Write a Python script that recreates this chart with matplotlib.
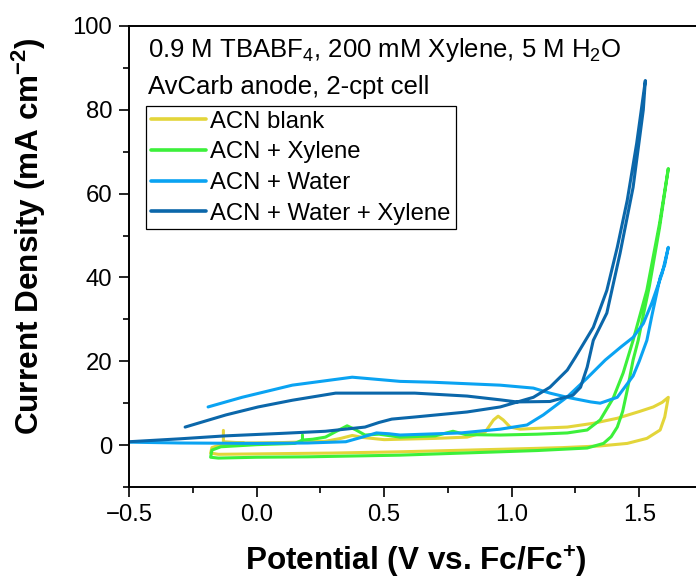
import matplotlib
matplotlib.use("Agg")
import matplotlib.pyplot as plt
from matplotlib.ticker import MultipleLocator

plt.rcParams.update({
    "font.family": "Liberation Sans",
    "mathtext.fontset": "custom",
    "mathtext.rm": "Liberation Sans",
    "mathtext.it": "Liberation Sans:italic",
    "mathtext.bf": "Liberation Sans:bold",
    "axes.linewidth": 1.4,
})

YELLOW, GREEN, LBLUE, DBLUE = "#e3d53a", "#3cf03a", "#0aa3f2", "#0b67aa"

# CV traces (potential V vs Fc/Fc+, current density mA cm-2)
blank_v = [-0.13, -0.13, -0.05, 0.10, 0.27, 0.33, 0.375, 0.42, 0.50, 0.563, 0.70, 0.825, 0.896,
           0.929, 0.947, 0.967, 0.994, 1.033, 1.10, 1.218, 1.32, 1.414, 1.50, 1.555, 1.59, 1.614,
           1.60, 1.582, 1.53, 1.453, 1.347, 1.20, 1.085, 0.825, 0.563, 0.30, 0.0, -0.15, -0.18,
           -0.175, -0.14, -0.05]
blank_j = [3.5, 0.8, 0.5, 0.6, 0.9, 1.6, 2.3, 1.8, 1.3, 1.4, 1.6, 1.9, 3.1,
           6.0, 6.9, 6.0, 4.3, 3.8, 4.0, 4.3, 5.2, 6.4, 8.0, 9.1, 10.2, 11.4,
           6.7, 3.6, 1.6, 0.4, -0.2, -0.6, -0.8, -1.2, -1.6, -1.9, -2.1, -2.2, -1.9,
           -0.6, 0.1, 0.5]

xyl_v = [0.18, 0.18, 0.22, 0.27, 0.31, 0.355, 0.39, 0.425, 0.48, 0.563, 0.70, 0.77, 0.82,
         0.955, 1.10, 1.218, 1.296, 1.347, 1.398, 1.437, 1.476, 1.53, 1.58, 1.614,
         1.58, 1.54, 1.516, 1.496, 1.476, 1.453, 1.435, 1.414, 1.39, 1.36, 1.296, 1.10,
         0.955, 0.563, 0.20, 0.0, -0.15, -0.18, -0.175, -0.14, 0.0, 0.15, 0.18]
xyl_j = [2.4, 1.2, 1.4, 1.9, 3.2, 4.6, 3.6, 2.4, 2.6, 1.9, 2.2, 3.3, 2.5,
         2.4, 2.6, 2.9, 3.6, 6.0, 11.2, 17.2, 25.0, 37.0, 53.0, 66.0,
         52.0, 38.0, 31.0, 25.0, 20.3, 13.1, 8.0, 4.3, 2.0, 0.4, -0.7, -1.3,
         -1.6, -2.4, -2.8, -2.9, -3.1, -2.9, -1.2, -0.4, 0.1, 0.4, 1.2]

wat_v = [-0.5, -0.3, 0.0, 0.20, 0.35, 0.42, 0.47, 0.52, 0.563, 0.80, 0.955, 1.06, 1.124,
         1.218, 1.296, 1.367, 1.43, 1.476, 1.516, 1.55, 1.59, 1.614,
         1.60, 1.582, 1.55, 1.53, 1.50, 1.476, 1.414, 1.347, 1.31, 1.218, 1.15, 1.085,
         0.955, 0.69, 0.563, 0.375, 0.14, -0.057, -0.19]
wat_j = [0.7, 0.5, 0.4, 0.5, 0.8, 2.0, 2.9, 2.7, 2.4, 2.9, 3.8, 4.8, 7.2,
         11.5, 16.0, 20.3, 23.5, 25.7, 29.0, 34.0, 41.0, 47.2,
         43.0, 40.0, 31.0, 25.0, 20.0, 16.5, 11.4, 10.0, 10.3, 11.4, 12.4, 13.6,
         14.3, 15.0, 15.2, 16.2, 14.3, 11.4, 9.1]

wx_v = [-0.5, -0.3, -0.123, 0.10, 0.27, 0.425, 0.48, 0.53, 0.62, 0.825, 0.955, 1.085, 1.15,
        1.218, 1.25, 1.32, 1.373, 1.414, 1.453, 1.49, 1.524,
        1.516, 1.476, 1.425, 1.373, 1.32, 1.296, 1.27, 1.24, 1.15, 1.02, 0.955, 0.825,
        0.62, 0.31, 0.14, 0.006, -0.12, -0.28]
wx_j = [0.8, 1.5, 2.2, 2.8, 3.3, 4.3, 5.4, 6.2, 6.7, 7.9, 9.1, 11.4, 13.8,
        17.9, 21.0, 28.1, 36.9, 47.2, 58.4, 72.0, 87.0,
        80.0, 61.5, 45.8, 31.5, 25.0, 18.6, 13.8, 11.9, 10.4, 10.3, 10.8, 11.7,
        12.4, 12.4, 10.7, 9.1, 7.2, 4.3]

labels = ["ACN blank", "ACN + Xylene", "ACN + Water", "ACN + Water + Xylene"]

fig = plt.figure(figsize=(6.96, 5.80), dpi=100)
ax = fig.add_axes([129/696, 93/580, 574/696, 461/580])

kw = dict(linewidth=2.2, solid_joinstyle="round", solid_capstyle="round")
ax.plot(blank_v, blank_j, color=YELLOW, label=labels[0], **kw)
ax.plot(xyl_v, xyl_j, color=GREEN, label=labels[1], **kw)
ax.plot(wat_v, wat_j, color=LBLUE, label=labels[2], **kw)
ax.plot(wx_v, wx_j, color=DBLUE, label=labels[3], **kw)

ax.set_xlim(-0.5, 1.75)
ax.set_ylim(-10, 100)
ax.xaxis.set_major_locator(MultipleLocator(0.5))
ax.xaxis.set_minor_locator(MultipleLocator(0.25))
ax.yaxis.set_major_locator(MultipleLocator(20))
ax.yaxis.set_minor_locator(MultipleLocator(10))
ax.xaxis.set_major_formatter(lambda v, p: f"{v:.1f}".replace("-", "\u2212"))
ax.tick_params(which="major", direction="out", length=7, width=1.2, labelsize=17.2, pad=5)
ax.tick_params(which="minor", direction="out", length=4, width=1.2)
ax.spines["right"].set_visible(False)

ax.set_xlabel(r"Potential (V vs. Fc/Fc$^{\mathbf{+}}$)", fontsize=22.7, fontweight="bold", labelpad=13)
ax.set_ylabel(r"Current Density (mA cm$^{\mathbf{-2}}$)", fontsize=22.7, fontweight="bold")
ax.yaxis.set_label_coords(-0.141, 0.544)

ax.text(0.033, 0.933, r"0.9 M TBABF$_4$, 200 mM Xylene, 5 M H$_2$O",
        transform=ax.transAxes, fontsize=18.5, va="baseline")
ax.text(0.033, 0.8525, "AvCarb anode, 2-cpt cell",
        transform=ax.transAxes, fontsize=18.5, va="baseline")

leg = ax.legend(loc="upper left", bbox_to_anchor=(0.0296, 0.8265), borderaxespad=0,
                fontsize=17.2, frameon=True, fancybox=False, framealpha=1,
                edgecolor="black", handlelength=2.3, handletextpad=0.2,
                labelspacing=0.36, borderpad=0.2)
leg.get_frame().set_linewidth(0.9)
for ln in leg.get_lines():
    ln.set_linewidth(2.6)

fig.savefig("out.png", dpi=100)
